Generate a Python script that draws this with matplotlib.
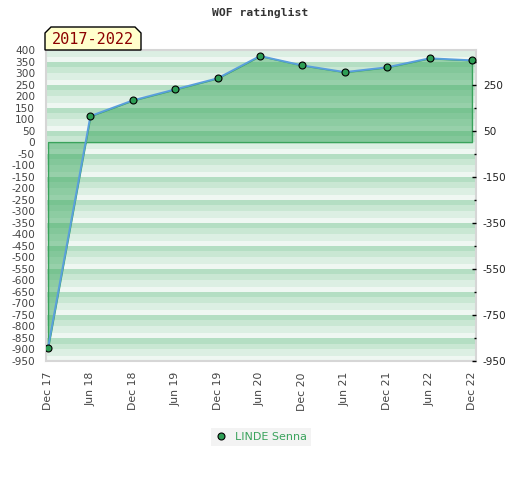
import matplotlib
matplotlib.use("Agg")
import matplotlib.pyplot as plt
from matplotlib.patches import Polygon
from matplotlib.lines import Line2D
import numpy as np

dates = ["Dec 17", "Jun 18", "Dec 18", "Jun 19", "Dec 19", "Jun 20",
         "Dec 20", "Jun 21", "Dec 21", "Jun 22", "Dec 22"]
ratings = [-894, 113, 181, 229, 277, 374, 333, 304, 325, 364, 355]
series_name = "LINDE Senna"
title = "WOF ratinglist"
period = "2017-2022"
left_ticks = list(range(-950, 401, 50))
right_major = list(range(-950, 251, 200))
right_minor = list(range(-850, 351, 200))

W, H = 520, 480
fig = plt.figure(figsize=(W / 100, H / 100), dpi=100)
ax = fig.add_axes([45.5 / W, 1 - 361 / H, 430.5 / W, 311 / H])

x = np.arange(len(dates))
ax.set_xlim(-0.059, len(dates) - 1 + 0.095)
ax.set_ylim(-951, 400)

# striped background
band_cols = ["#b4dec3", "#c9e7d3", "#dcefe3", "#eff7f2"]
band_parts = [0, 25, 50, 80, 100]
for top in range(450, -1100, -100):
    for i, c in enumerate(band_cols):
        ax.axhspan(top - band_parts[i + 1], top - band_parts[i], color=c, lw=0, zorder=0)

# filled area
ax.fill_between(x, ratings, 0, facecolor=(0.216, 0.651, 0.361, 0.48),
                edgecolor="#3aa35c", linewidth=1.0, zorder=2)
ax.plot(x, ratings, color="#5a9fdc", lw=1.4, zorder=3)
ax.plot(x, ratings, linestyle="none", marker="o", markersize=5,
        markerfacecolor="#2e9e55", markeredgecolor="black", markeredgewidth=0.8, zorder=4)

for s in ax.spines.values():
    s.set_color("#d6d6d6")
    s.set_linewidth(1.5)

ax.set_xticks(x)
ax.set_xticklabels(dates, rotation=90, fontsize=7.8, color="#444444")
ax.tick_params(axis="x", length=0, pad=8)
ax.set_yticks(left_ticks)
ax.set_yticklabels([str(v) for v in left_ticks], fontsize=7.6, color="#444444")
ax.tick_params(axis="y", length=0, pad=7.5)

ax2 = ax.twinx()
ax2.set_ylim(ax.get_ylim())
ax2.set_yticks(right_major)
ax2.set_yticklabels([str(v) for v in right_major], fontsize=7.6, color="#222222")
ax2.set_yticks(right_minor, minor=True)
ax2.tick_params(axis="y", which="major", direction="in", length=3.2, width=1, pad=5, color="black")
ax2.tick_params(axis="y", which="minor", direction="in", length=1.8, width=1, color="black")
for s in ax2.spines.values():
    s.set_visible(False)

fig.text(260 / W, 1 - 13 / H, title, ha="center", va="center",
         fontsize=8.2, fontweight="bold", family="DejaVu Sans Mono", color="#333333")

pts = [(45, 50), (45, 33), (51, 27), (135, 27), (141, 33), (141, 50)]
badge = Polygon([(px / W, 1 - py / H) for px, py in pts], closed=True,
                transform=fig.transFigure, facecolor="#ffffcc", edgecolor="black",
                linewidth=1.0, zorder=10)
fig.patches.append(badge)
fig.text(93 / W, 1 - 39.5 / H, period, ha="center", va="center", fontsize=11,
         family="DejaVu Sans Mono", color="#8b0000", zorder=11)

handle = Line2D([], [], linestyle="none", marker="o", markersize=5,
                markerfacecolor="#2e9e55", markeredgecolor="black", markeredgewidth=0.8)
leg = fig.legend([handle], [series_name], loc="center", bbox_to_anchor=(261 / W, 1 - 437 / H),
                 bbox_transform=fig.transFigure, fontsize=8, frameon=True, fancybox=False,
                 facecolor="#f0f0f0", edgecolor="#f0f0f0", handlelength=1.0,
                 handletextpad=0.8, borderpad=0.4, labelcolor="#3aa35c")
leg.get_frame().set_linewidth(0)

fig.savefig("out.png", dpi=100)
